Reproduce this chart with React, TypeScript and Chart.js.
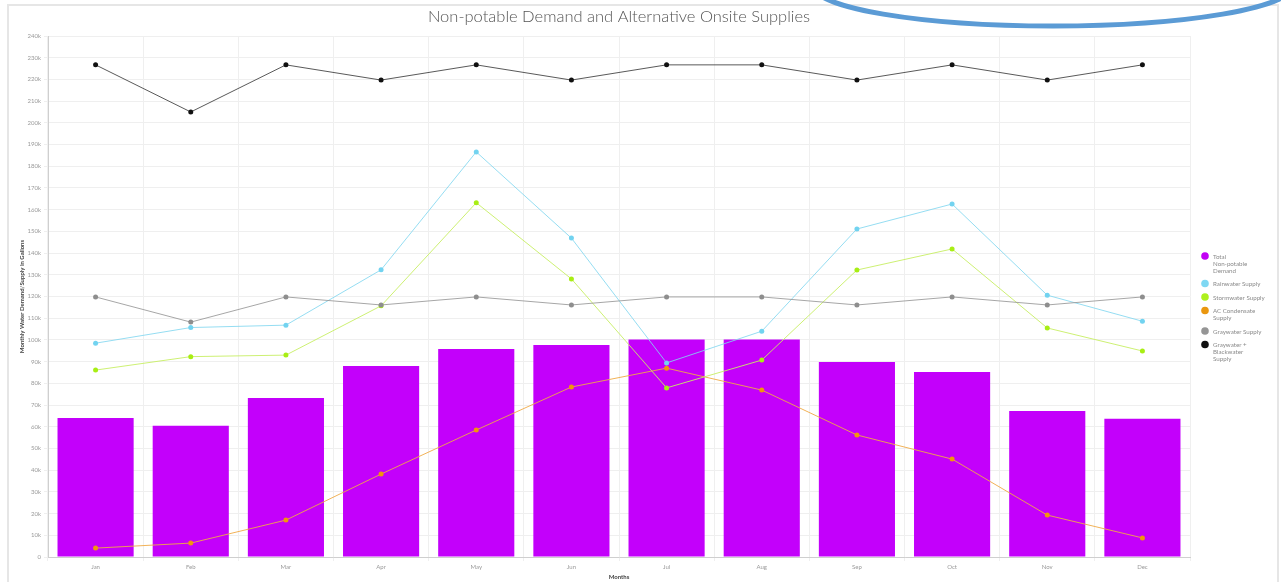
import React, { useEffect, useRef } from "react";
import { Chart, registerables } from "chart.js";

Chart.register(...registerables);

// Monthly categories
const months = ["Jan", "Feb", "Mar", "Apr", "May", "Jun", "Jul", "Aug", "Sep", "Oct", "Nov", "Dec"];

// Gallons per month
const totalDemand = [64000, 60500, 73200, 88000, 95800, 97700, 100200, 100200, 89800, 85200, 67200, 63700];
const rainwater = [98500, 105700, 106800, 132300, 186600, 146900, 89400, 104000, 151100, 162600, 120600, 108600];
const stormwater = [86100, 92300, 93000, 115700, 163200, 128100, 77900, 90700, 132200, 141900, 105500, 94900];
const acCondensate = [4100, 6400, 17000, 38200, 58500, 78300, 87000, 76900, 56200, 45100, 19300, 8800];
const graywater = [119800, 108200, 119800, 116100, 119800, 116100, 119800, 119800, 116100, 119800, 116100, 119800];
const grayBlackwater = [226700, 205000, 226700, 219700, 226700, 219700, 226700, 226700, 219700, 226700, 219700, 226700];

// Series names and how they wrap in the legend
const seriesNames = [
  "Total Non-potable Demand",
  "Rainwater Supply",
  "Stormwater Supply",
  "AC Condensate Supply",
  "Graywater Supply",
  "Graywater + Blackwater Supply",
];
const legendLines = [
  ["Total", "Non-potable", "Demand"],
  ["Rainwater Supply"],
  ["Stormwater Supply"],
  ["AC Condensate", "Supply"],
  ["Graywater Supply"],
  ["Graywater +", "Blackwater", "Supply"],
];
const legendColors = ["#c200f5", "#7fd8f3", "#aef01e", "#ea970f", "#959595", "#111111"];

const yTicksMax = 240000;
const yTicksStep = 10000;

const chartTitle = "Non-potable Demand and Alternative Onsite Supplies";
const yTitle = "Monthly Water Demand/Supply in Gallons";
const xTitle = "Months";

const FONT = "Lato, 'Open Sans', sans-serif";

const titlePlugin = {
  id: "centeredTitle",
  afterDraw(chart: any) {
    const { ctx, chartArea } = chart;
    ctx.save();
    ctx.font = `300 16.5px ${FONT}`;
    ctx.fillStyle = "#555555";
    ctx.textAlign = "center";
    ctx.textBaseline = "middle";
    ctx.fillText(chartTitle, (chartArea.left + chartArea.right) / 2, 10);
    ctx.restore();
  },
};

const legendPlugin = {
  id: "sideLegend",
  afterDraw(chart: any) {
    const { ctx, chartArea } = chart;
    const dotX = chartArea.right + 15;
    const textX = dotX + 8;
    const lineH = 7;
    let y = 249;
    ctx.save();
    ctx.font = `400 6.2px ${FONT}`;
    ctx.textBaseline = "middle";
    ctx.textAlign = "left";
    legendLines.forEach((lines, i) => {
      ctx.beginPath();
      ctx.arc(dotX, y, 3.8, 0, Math.PI * 2);
      ctx.fillStyle = legendColors[i];
      ctx.fill();
      ctx.fillStyle = "#8a8a8a";
      lines.forEach((t, j) => ctx.fillText(t, textX, y + 1 + j * lineH));
      y += lines.length * lineH + 6.5;
    });
    ctx.restore();
  },
};

function lineSet(label: string, data: number[], line: string, point: string, order: number) {
  return {
    type: "line" as const,
    label,
    data,
    borderColor: line,
    backgroundColor: point,
    pointBackgroundColor: point,
    pointBorderWidth: 0,
    pointRadius: 2.5,
    borderWidth: 1,
    tension: 0,
    order,
  };
}

export default function App() {
  const canvasRef = useRef<HTMLCanvasElement | null>(null);

  useEffect(() => {
    const canvas = canvasRef.current;
    if (!canvas) return;
    const chart = new Chart(canvas, {
      type: "bar",
      data: {
        labels: months,
        datasets: [
          lineSet(seriesNames[5], grayBlackwater, "rgba(60,60,60,0.85)", "#111111", 1),
          lineSet(seriesNames[4], graywater, "rgba(150,150,150,0.85)", "#8e8e8e", 2),
          lineSet(seriesNames[1], rainwater, "rgba(130,215,240,0.85)", "#72d3f0", 3),
          lineSet(seriesNames[2], stormwater, "rgba(200,238,100,0.9)", "#a8ee14", 4),
          lineSet(seriesNames[3], acCondensate, "rgba(240,170,70,0.9)", "#f0960c", 5),
          {
            type: "bar" as const,
            label: seriesNames[0],
            data: totalDemand,
            backgroundColor: "#c300fb",
            borderWidth: 0,
            barPercentage: 0.8,
            categoryPercentage: 1.0,
            order: 10,
          },
        ] as any,
      },
      options: {
        responsive: false,
        animation: false,
        layout: { padding: { top: 29, right: 86, left: 0, bottom: 0 } },
        plugins: {
          legend: { display: false },
          title: { display: false },
          tooltip: { enabled: false },
        },
        scales: {
          x: {
            afterFit(scale: any) {
              scale.height = 25;
            },
            grid: { color: "#efefef", offset: true, tickLength: 4, drawTicks: true },
            border: { color: "#cfcfcf" },
            ticks: { font: { family: FONT, size: 6 }, color: "#9a9a9a", padding: 2 },
            title: {
              display: true,
              text: xTitle,
              font: { family: FONT, size: 6, weight: "bold" },
              color: "#444",
              padding: { top: 0, bottom: 1 },
            },
          },
          y: {
            min: 0,
            max: yTicksMax,
            afterFit(scale: any) {
              scale.width = 38;
            },
            grid: { color: "#efefef", tickLength: 4 },
            border: { color: "#cfcfcf" },
            ticks: {
              stepSize: yTicksStep,
              font: { family: FONT, size: 6 },
              color: "#9a9a9a",
              padding: 3,
              callback: (v: any) => (v === 0 ? "0" : `${v / 1000}k`),
            },
            title: {
              display: true,
              text: yTitle,
              font: { family: FONT, size: 6, weight: "bold" },
              color: "#444",
              padding: { top: 8, bottom: 0 },
            },
          },
        },
      },
      plugins: [titlePlugin, legendPlugin],
    });
    return () => chart.destroy();
  }, []);

  return (
    <div style={{ position: "fixed", left: 0, top: 0, width: 1281, height: 582, background: "#fff", overflow: "hidden" }}>
      <div style={{ position: "absolute", left: 8, top: 4, width: 1271, height: 2, background: "#e6e6e6" }} />
      <div style={{ position: "absolute", left: 7, top: 4, width: 2, height: 578, background: "#e6e6e6" }} />
      <div style={{ position: "absolute", left: 1277, top: 4, width: 2, height: 578, background: "#e6e6e6" }} />
      <canvas
        ref={canvasRef}
        width={1266}
        height={575}
        style={{ position: "absolute", left: 10, top: 7, width: 1266, height: 575 }}
      />
      <svg width={1281} height={582} style={{ position: "absolute", left: 0, top: 0, pointerEvents: "none" }}>
        <ellipse cx={1053} cy={-14.5} rx={240} ry={40.5} fill="none" stroke="#5b9bd5" strokeWidth={5} />
      </svg>
    </div>
  );
}
